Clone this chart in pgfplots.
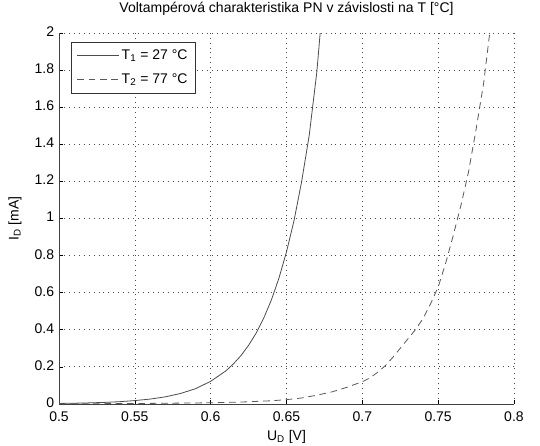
\documentclass[border=0pt]{standalone}
\usepackage{pgfplots}
\pgfplotsset{compat=1.18}
\usepackage{fontspec}
\setmainfont{Liberation Sans}

% current through the diode
\pgfplotstableread{
U I
0.50 0.0026
0.51 0.0038
0.52 0.0056
0.53 0.0082
0.54 0.0121
0.55 0.018
0.56 0.026
0.57 0.038
0.58 0.056
0.59 0.082
0.60 0.122
0.61 0.178
0.615 0.216
0.62 0.261
0.625 0.316
0.63 0.382
0.635 0.463
0.64 0.560
0.645 0.678
0.65 0.820
0.655 0.990
0.66 1.200
0.665 1.450
0.67 1.790
0.6722 2.000
}\tabTone

\pgfplotstableread{
U I
0.50 0.0005
0.55 0.002
0.60 0.006
0.62 0.010
0.64 0.017
0.65 0.023
0.66 0.032
0.67 0.047
0.68 0.065
0.69 0.090
0.70 0.120
0.705 0.140
0.71 0.170
0.715 0.205
0.72 0.250
0.725 0.300
0.73 0.350
0.735 0.400
0.74 0.460
0.745 0.540
0.75 0.630
0.755 0.760
0.76 0.910
0.765 1.070
0.77 1.250
0.775 1.480
0.78 1.730
0.784 2.000
}\tabTtwo

\begin{document}
\fontsize{10.5}{12}\selectfont
\begin{tikzpicture}
\begin{axis}[
    width=341pt, height=278pt, scale only axis,
    xmin=0.5, xmax=0.8,
    ymin=0, ymax=2,
    xtick={0.5,0.55,0.6,0.65,0.7,0.75,0.8},
    xticklabels={0.5,0.55,0.6,0.65,0.7,0.75,0.8},
    ytick={0,0.2,0.4,0.6,0.8,1,1.2,1.4,1.6,1.8,2},
    yticklabels={0,0.2,0.4,0.6,0.8,1,1.2,1.4,1.6,1.8,2},
    xticklabel style={yshift=-2.5pt},
    yticklabel style={yshift=1pt},
    axis x line*=bottom, axis y line*=left,
    axis line style={black!75, -},
    tick style={black, thin},
    tick align=inside,
    major tick length=3pt,
    grid=major,
    major grid style={black!70, line width=0.5pt, dash pattern=on 0.7pt off 3pt},
    title={Voltampérová charakteristika PN v závislosti na T [°C]},
    title style={at={(0.5,1.045)}, anchor=center, yshift=0pt, inner sep=0pt},
    xlabel={U\textsubscript{D} [V]},
    xlabel style={at={(axis description cs:0.5,-0.088)}, anchor=center, inner sep=0pt},
    ylabel={I\textsubscript{D} [mA]},
    ylabel style={at={(axis description cs:-0.097,0.5)}, anchor=center, rotate=0, inner sep=0pt},
    legend style={at={(0.027,0.975)}, anchor=north west, draw=black!80,
        fill=white, font=\fontsize{10.5}{12}\selectfont,
        inner xsep=4pt, inner ysep=3.5pt, row sep=5pt,
        /tikz/every even column/.append style={column sep=0pt}},
    legend cell align=left,
    legend image code/.code={\draw[#1] (0pt,0pt) -- (31pt,0pt);},
]
\addplot[black!70, line width=0.6pt] table[x=U, y=I] {\tabTone};
\addlegendentry{T\textsubscript{1} = 27 °C}
\addplot[black!65, line width=0.6pt, dash pattern=on 5pt off 3.5pt] table[x=U, y=I] {\tabTtwo};
\addlegendentry{T\textsubscript{2} = 77 °C}
\end{axis}
\path (current axis.south west) ++(-44.25pt,-31.5pt);
\path (current axis.north east) ++(19.5pt,24.75pt);
\end{tikzpicture}
\end{document}
